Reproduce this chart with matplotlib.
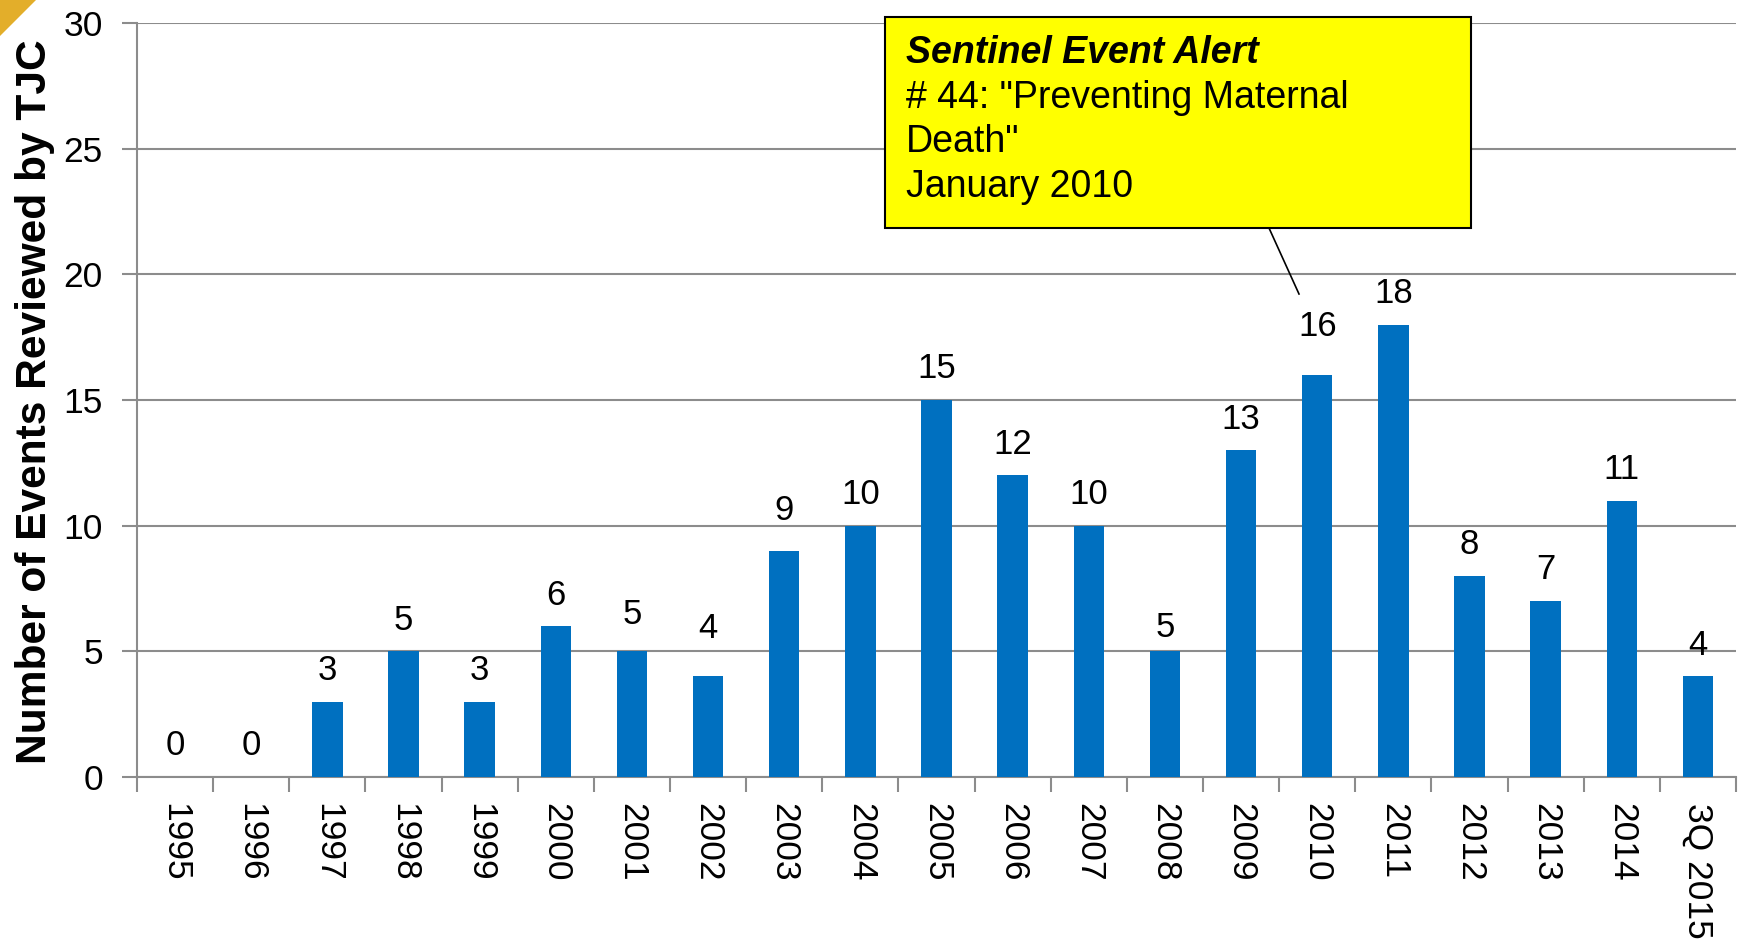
import matplotlib
matplotlib.use("Agg")
import matplotlib.pyplot as plt
from matplotlib.patches import Rectangle, Polygon
from matplotlib.lines import Line2D
import numpy as np

categories = ["1995", "1996", "1997", "1998", "1999", "2000", "2001", "2002", "2003",
              "2004", "2005", "2006", "2007", "2008", "2009", "2010", "2011", "2012",
              "2013", "2014", "3Q 2015"]
values = [0, 0, 3, 5, 3, 6, 5, 4, 9, 10, 15, 12, 10, 5, 13, 16, 18, 8, 7, 11, 4]
y_ticks = [0, 5, 10, 15, 20, 25, 30]
ylabel = "Number of Events Reviewed by TJC"
note_title = "Sentinel Event Alert"
note_lines = ['# 44: "Preventing Maternal', 'Death"', 'January 2010']

# extra vertical nudge (points) of individual value labels, as in the original slide
label_nudge = {6: 4.4, 7: 12.4, 8: 6.8, 13: -5.0, 15: 12.4}

W, H = 1741, 944
plt.rcParams['font.family'] = ['Liberation Sans', 'DejaVu Sans']
fig = plt.figure(figsize=(W / 100, H / 100), dpi=100)
ax = fig.add_axes([137 / W, 1 - 777 / H, (1736 - 137) / W, (777 - 23) / H])

x = np.arange(len(categories))
bars = ax.bar(x, values, width=0.4, color="#0070C0", zorder=3)
for i, (xi, v) in enumerate(zip(x, values)):
    ax.annotate(str(v), (xi, v), xytext=(0, 10.5 + label_nudge.get(i, 0)),
                textcoords="offset points", ha="center", va="bottom",
                fontsize=25, color="black")

ax.set_xlim(-0.5, len(categories) - 0.5)
ax.set_ylim(0, 30)
ax.set_yticks(y_ticks)
ax.set_yticklabels([str(t) for t in y_ticks], fontsize=25.5)
ax.yaxis.grid(True, color="#8c8c8c", linewidth=1.5, zorder=0)
ax.set_axisbelow(True)

ax.set_xticks(np.arange(-0.5, len(categories), 1.0))
ax.set_xticklabels([])
ax.set_xticks(x, minor=True)
ax.set_xticklabels(categories, minor=True, rotation=270, fontsize=25.5, va="top", ha="center")
ax.tick_params(axis="x", which="major", length=11, width=1.5, color="#8c8c8c", direction="out")
ax.tick_params(axis="x", which="minor", length=0, pad=19)
ax.tick_params(axis="y", length=11, width=1.5, color="#8c8c8c", direction="out", pad=13.5)

for s in ["top", "right"]:
    ax.spines[s].set_visible(False)
for s in ["left", "bottom"]:
    ax.spines[s].set_color("#8c8c8c")
    ax.spines[s].set_linewidth(1.5)

ax.set_ylabel(ylabel, fontsize=30.6, fontweight="bold")
ax.yaxis.set_label_coords(-(137 - 55) / (1736 - 137), 0.498)

# gold corner triangle
fig.patches.append(Polygon([[0, 1], [36 / W, 1], [0, 1 - 36 / H]], closed=True,
                           transform=fig.transFigure, facecolor="#E3AE2A", edgecolor="none"))

# callout box
bx0, by0, bx1, by1 = 885, 17, 1471, 228
fig.patches.append(Rectangle((bx0 / W, 1 - by1 / H), (bx1 - bx0) / W, (by1 - by0) / H,
                             transform=fig.transFigure, facecolor="#FFFF00",
                             edgecolor="black", linewidth=1.5, zorder=5))
fig.lines.append(Line2D([1269 / W, 1299 / W], [1 - 228 / H, 1 - 294 / H],
                        transform=fig.transFigure, color="black", linewidth=1.2, zorder=5))
tx = 906 / W
fig.text(tx, 1 - 63 / H, note_title, fontsize=27, fontweight="bold", fontstyle="italic",
         va="baseline", ha="left", zorder=6)
for i, line in enumerate(note_lines):
    fig.text(tx, 1 - (108 + 44.5 * i) / H, line, fontsize=27, va="baseline", ha="left", zorder=6)

fig.savefig("out.png", dpi=100, facecolor="white")
